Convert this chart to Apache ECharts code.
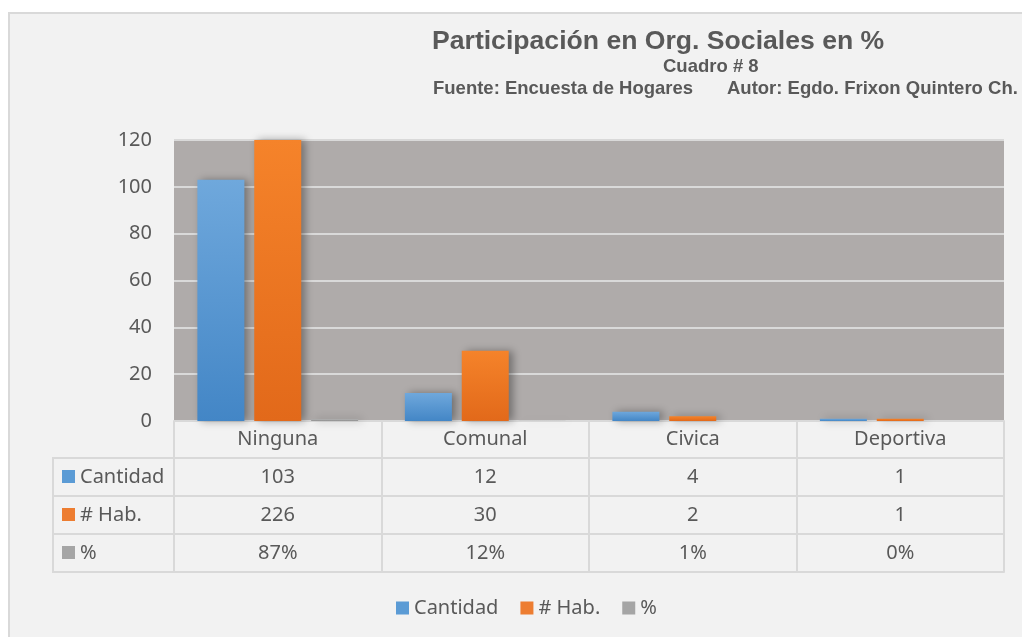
<!DOCTYPE html>
<html>
<head>
<meta charset="utf-8">
<script src="https://cdn.jsdelivr.net/npm/echarts@6/dist/echarts.min.js"></script>
<style>
html, body { margin: 0; background: #fff; }
#wrap { position: relative; width: 1022px; height: 637px; overflow: hidden; }
#frame { position: absolute; left: 8px; top: 12px; width: 1030px; height: 640px; background: #f2f2f2; border: 2px solid #d9d9d9; }
#main { position: absolute; left: 0; top: 0; width: 1022px; height: 637px; }
</style>
</head>
<body>
<div id="wrap"><div id="frame"></div><div id="main"></div></div>
<script>
// datos del cuadro 8
const categories = ['Ninguna', 'Comunal', 'Civica', 'Deportiva']
const seriesNames = ['Cantidad', '# Hab.', '%']
const cantidad = [103, 12, 4, 1]
const habitantes = [226, 30, 2, 1]
const porcentaje = [0.87, 0.12, 0.01, 0.00]
const yMin = 0
const yMax = 120
const yStep = 20

const txt = '#595959'
const line = '#d9d9d9'
const font = 'Noto Sans'
const colors = ['#5b9bd5', '#ed7d31', '#a5a5a5']
const grads = [
	['#6fa8dc', '#4386c6'],
	['#f5832a', '#e2691a'],
	['#b5b5b5', '#8e8e8e']
]
const rows = [cantidad, habitantes, porcentaje]

function fmt(row, i) {
	let v = rows[row][i]
	return row === 2 ? Math.round(v * 100) + '%' : String(v)
}

// ejes de la tabla de datos (una fila por eje)
let xAxes = [{
	type: 'category',
	data: categories,
	position: 'bottom',
	axisLine: { show: true, lineStyle: { color: line, width: 2 } },
	axisTick: { show: true, length: 37, lineStyle: { color: line, width: 2 } },
	axisLabel: { fontSize: 20, lineHeight: 20, color: txt, fontFamily: font, margin: 8 }
}]
rows.forEach((r, k) => {
	xAxes.push({
		type: 'category',
		data: categories,
		position: 'bottom',
		offset: 37 + 38 * k,
		axisLine: { show: true, lineStyle: { color: line, width: 2 } },
		axisTick: { show: true, length: 38, lineStyle: { color: line, width: 2 } },
		axisLabel: {
			fontSize: 20, lineHeight: 20, color: txt, fontFamily: font, margin: 9,
			formatter: (v, i) => fmt(k, i)
		}
	})
})
xAxes.push({
	type: 'category',
	data: categories,
	position: 'bottom',
	offset: 151,
	axisLine: { show: true, lineStyle: { color: line, width: 2 } },
	axisTick: { show: false },
	axisLabel: { show: false }
})

let graphics = [
	{ type: 'text', left: 432, top: 28, style: { text: 'Participación en Org. Sociales en %', font: 'bold 26.6px "Liberation Sans"', fill: txt } },
	{ type: 'text', left: 663, top: 57, style: { text: 'Cuadro # 8', font: 'bold 18.5px "Liberation Sans"', fill: txt } },
	{ type: 'text', left: 433, top: 79, style: { text: 'Fuente: Encuesta de Hogares', font: 'bold 18.5px "Liberation Sans"', fill: txt } },
	{ type: 'text', left: 727, top: 79, style: { text: 'Autor: Egdo. Frixon Quintero Ch.', font: 'bold 18.5px "Liberation Sans"', fill: txt } }
]
seriesNames.forEach((name, i) => {
	graphics.push({ type: 'rect', shape: { x: 53, y: 458 + 38 * i, width: 121, height: 38 }, style: { fill: 'none', stroke: line, lineWidth: 2 } })
	graphics.push({ type: 'rect', shape: { x: 62, y: 470 + 38 * i, width: 13, height: 13 }, style: { fill: colors[i] } })
	graphics.push({ type: 'text', x: 80, y: 477 + 38 * i, style: { text: name, font: '20px "Noto Sans"', fill: txt, verticalAlign: 'middle' } })
})

let chart = echarts.init(document.getElementById('main'))
chart.setOption({
	backgroundColor: 'transparent',
	animation: false,
	grid: {
		left: 174, right: 18, top: 140, bottom: 216,
		show: true, backgroundColor: '#afabaa', borderWidth: 0
	},
	legend: {
		left: 391, top: 593,
		itemWidth: 13, itemHeight: 13, itemGap: 22, icon: 'rect',
		textStyle: { fontSize: 20, color: txt, fontFamily: font },
		data: seriesNames.map((n, i) => ({ name: n, itemStyle: { color: colors[i] } }))
	},
	xAxis: xAxes,
	yAxis: {
		type: 'value', min: yMin, max: yMax, interval: yStep,
		axisLine: { show: false },
		axisTick: { show: false },
		axisLabel: { fontSize: 20, color: txt, fontFamily: font, margin: 22 },
		splitLine: { lineStyle: { color: line, width: 2 } }
	},
	graphic: graphics,
	series: rows.map((r, i) => ({
		name: seriesNames[i],
		type: 'bar',
		data: r,
		barWidth: 47,
		barGap: '21%',
		itemStyle: {
			color: new echarts.graphic.LinearGradient(0, 0, 0, 1, [
				{ offset: 0, color: grads[i][0] },
				{ offset: 1, color: grads[i][1] }
			]),
			shadowColor: 'rgba(0,0,0,0.35)',
			shadowBlur: 8,
			shadowOffsetX: 4
		}
	}))
})
</script>
</body>
</html>
